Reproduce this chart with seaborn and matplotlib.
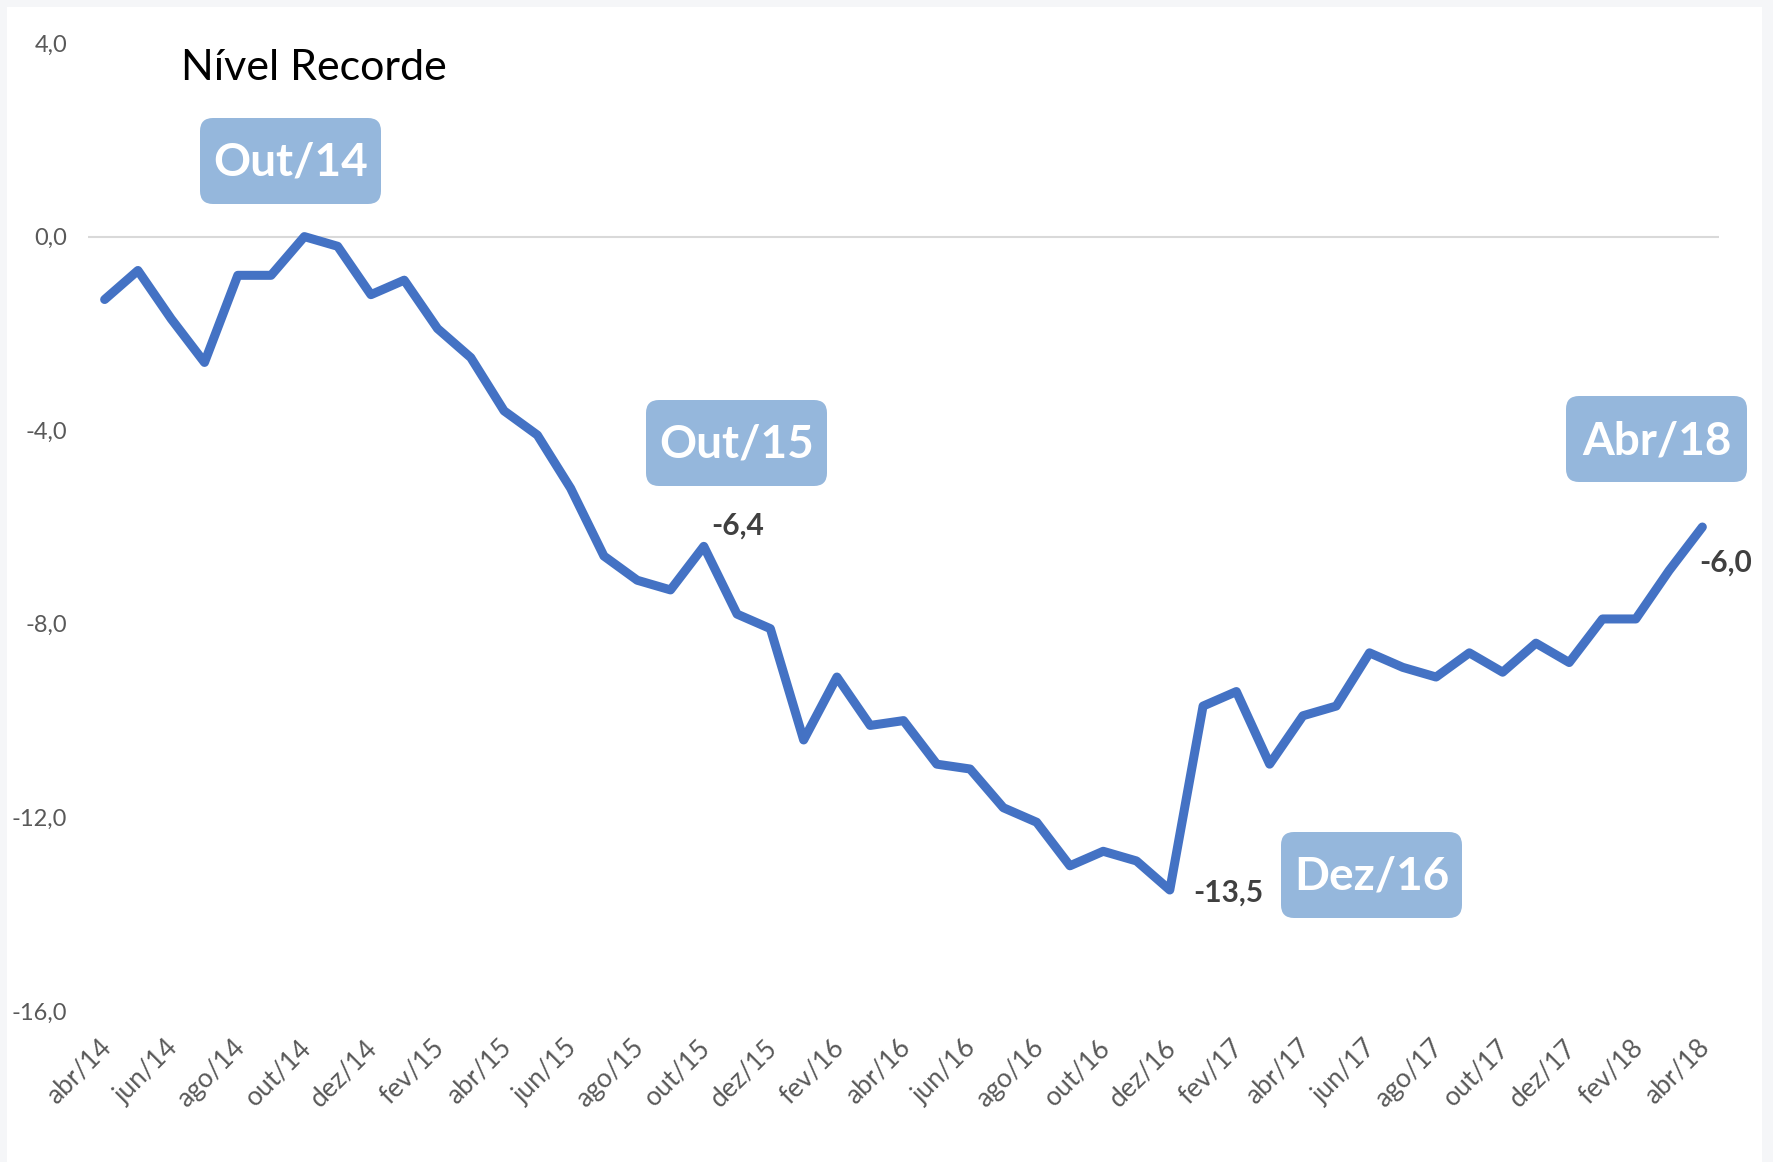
import matplotlib
matplotlib.use("Agg")
import matplotlib.pyplot as plt
import matplotlib.transforms as mtransforms
from matplotlib.patches import FancyBboxPatch, Rectangle
import seaborn as sns
import pandas as pd

# Dados (abr/14 a abr/18)
meses = ["abr", "mai", "jun", "jul", "ago", "set", "out", "nov", "dez", "jan", "fev", "mar"]
rotulos = []
for i in range(49):
    m = meses[i % 12]
    a = 14 + (i + 3) // 12
    rotulos.append(f"{m}/{a}")

valores = [-1.3, -0.7, -1.7, -2.6, -0.8, -0.8, 0.0, -0.2, -1.2, -0.9, -1.9, -2.5,
           -3.6, -4.1, -5.2, -6.6, -7.1, -7.3, -6.4, -7.8, -8.1, -10.4, -9.1, -10.1,
           -10.0, -10.9, -11.0, -11.8, -12.1, -13.0, -12.7, -12.9, -13.5, -9.7, -9.4, -10.9,
           -9.9, -9.7, -8.6, -8.9, -9.1, -8.6, -9.0, -8.4, -8.8, -7.9, -7.9, -6.9,
           -6.0]

rotulos_valor = [18, 32, 48]
caixas_texto = ["Out/14", "Out/15", "Dez/16", "Abr/18"]

df = pd.DataFrame({"pos": range(len(valores)), "valor": valores, "mes": rotulos})

sns.set_style("white")
plt.rcParams["font.family"] = ["Lato", "DejaVu Sans"]

W, H = 1773, 1162
fig = plt.figure(figsize=(W / 100, H / 100), dpi=100)
fig.patch.set_facecolor("#f5f6f8")
fig.patches.append(Rectangle((7 / W, 0), 1755 / W, 1 - 7 / H, transform=fig.transFigure,
                             facecolor="white", edgecolor="none", zorder=-5))

ax = fig.add_axes([88 / W, 1 - 1011 / H, 1631 / W, 968 / H])
ax.set_facecolor("none")
ax.set_zorder(1)

sns.lineplot(data=df, x="pos", y="valor", ax=ax, color="#4472C4", linewidth=6.5,
             solid_capstyle="round", solid_joinstyle="round", zorder=3)
ax.axhline(0, color="#d9d9d9", linewidth=1.5, zorder=1)

ax.set_xlim(-0.5, len(valores) - 0.5)
ax.set_ylim(-16, 4)
yt = [4, 0, -4, -8, -12, -16]
ax.set_yticks(yt)
ax.set_yticklabels([f"{v:.1f}".replace(".", ",") for v in yt])
ax.set_xticks(df["pos"][::2])
ax.set_xticklabels(df["mes"][::2], rotation=45, ha="right", va="top", rotation_mode="anchor")
ax.tick_params(axis="both", length=0, colors="#595959")
ax.tick_params(axis="x", pad=17, labelsize=19)
ax.tick_params(axis="y", pad=15, labelsize=17)
desloc = mtransforms.ScaledTranslation(-6 / 100, 0, fig.dpi_scale_trans)
for lb in ax.get_xticklabels():
    lb.set_transform(lb.get_transform() + desloc)
ax.set_xlabel("")
ax.set_ylabel("")
for s in ax.spines.values():
    s.set_visible(False)

# Rotulos de valor
offsets = {18: (34, 21, "center"), 32: (23, -3, "left"), 48: (-3, -36, "left")}
for i in rotulos_valor:
    dx, dy, ha = offsets[i]
    ax.annotate(f"{valores[i]:.1f}".replace(".", ","), xy=(i, valores[i]), xytext=(dx, dy),
                textcoords="offset pixels", ha=ha, va="center", fontsize=21.5,
                fontweight="bold", color="#404040", annotation_clip=False)

# Titulo
fig.text(181 / W, 1 - 80 / H, "Nível Recorde", fontsize=31, color="black", va="baseline")

# Caixas de destaque (canto superior esquerdo, em pixels)
cantos = [(200, 118), (646, 400), (1281, 832), (1566, 396)]
for nome, (x0, y0) in zip(caixas_texto, cantos):
    bw, bh = 181, 86
    box = FancyBboxPatch((x0 / 100, (H - y0 - bh) / 100), bw / 100, bh / 100,
                         boxstyle="round,pad=0,rounding_size=0.13",
                         transform=fig.dpi_scale_trans, facecolor="#95b7dc",
                         edgecolor="none", zorder=5)
    fig.patches.append(box)
    fig.text((x0 + bw / 2) / W, 1 - (y0 + bh / 2 + 2) / H, nome, fontsize=33,
             fontweight="bold", color="white", ha="center", va="center", zorder=6)

fig.savefig("out.png", dpi=100)
